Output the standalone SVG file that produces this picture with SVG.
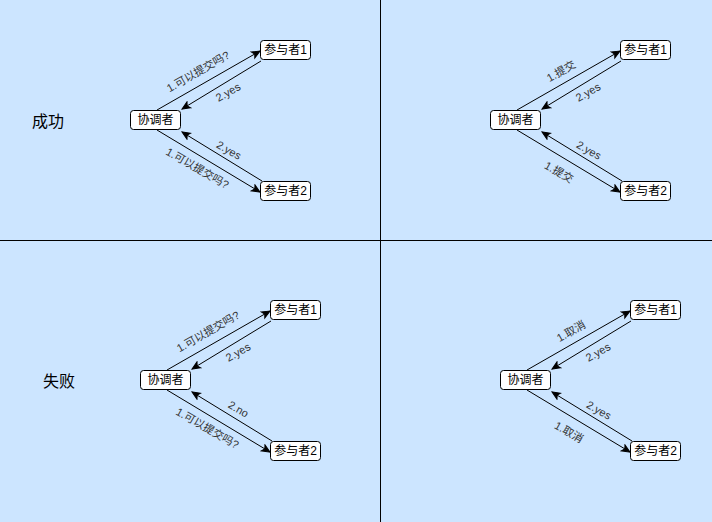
<svg xmlns="http://www.w3.org/2000/svg" width="712" height="522" viewBox="0 0 712 522">
<defs>
<style>
.bg{fill:#cce5ff}
.div{stroke:#000;stroke-width:1}
.node rect{fill:#fff;stroke:#000;stroke-width:1}
.node text{font-family:"Liberation Sans","Noto Sans CJK SC",sans-serif;font-size:12px;fill:#000;text-anchor:middle;dominant-baseline:central}
.edge{stroke:#000;stroke-width:1;fill:none;marker-end:url(#arr)}
.lbl{font-family:"Liberation Sans","Noto Sans CJK SC",sans-serif;font-size:11px;fill:#333;text-anchor:middle;dominant-baseline:central}
.title{font-family:"Liberation Sans","Noto Sans CJK SC",sans-serif;font-size:16px;fill:#000;text-anchor:middle;dominant-baseline:central}
</style>
<marker id="arr" markerUnits="userSpaceOnUse" markerWidth="10" markerHeight="10" viewBox="0 0 10 10" refX="9" refY="5" orient="auto">
<path d="M1,1.5 L9,5 L1,8.5 L3,5 Z" fill="#000" stroke="#000" stroke-width="1"/>
</marker>
</defs>
<rect class="bg" x="0" y="0" width="712" height="522"/>
<line class="div" x1="380.5" y1="0" x2="380.5" y2="522"/>
<line class="div" x1="0" y1="240.5" x2="712" y2="240.5"/>
<text class="title" x="48" y="121">成功</text>
<text class="title" x="59" y="381">失败</text>

<g id="connectors">
<g transform="translate(0,0)">
<path class="edge" d="M157,110 L260,51"/>
<path class="edge" d="M261,61 L182,109"/>
<path class="edge" d="M157,130 L260,192"/>
<path class="edge" d="M262,181 L182,132"/>
<text class="lbl" transform="translate(198,71.5) rotate(-30)">1.可以提交吗?</text>
<text class="lbl" transform="translate(228,92) rotate(-30)">2.yes</text>
<text class="lbl" transform="translate(229,150) rotate(30)">2.yes</text>
<text class="lbl" transform="translate(197.5,168) rotate(30)">1.可以提交吗?</text>
</g>
<g transform="translate(360,0)">
<path class="edge" d="M157,110 L260,51"/>
<path class="edge" d="M261,61 L182,109"/>
<path class="edge" d="M157,130 L260,192"/>
<path class="edge" d="M262,181 L182,132"/>
<text class="lbl" transform="translate(201,71) rotate(-30)">1.提交</text>
<text class="lbl" transform="translate(228,92) rotate(-30)">2.yes</text>
<text class="lbl" transform="translate(229,150) rotate(30)">2.yes</text>
<text class="lbl" transform="translate(199,172) rotate(30)">1.提交</text>
</g>
<g transform="translate(10,260)">
<path class="edge" d="M157,110 L260,51"/>
<path class="edge" d="M261,61 L182,109"/>
<path class="edge" d="M157,130 L260,192"/>
<path class="edge" d="M262,181 L182,132"/>
<text class="lbl" transform="translate(198,71.5) rotate(-30)">1.可以提交吗?</text>
<text class="lbl" transform="translate(228,92) rotate(-30)">2.yes</text>
<text class="lbl" transform="translate(228.5,149) rotate(30)">2.no</text>
<text class="lbl" transform="translate(197.5,168) rotate(30)">1.可以提交吗?</text>
</g>
<g transform="translate(370,260)">
<path class="edge" d="M157,110 L260,51"/>
<path class="edge" d="M261,61 L182,109"/>
<path class="edge" d="M157,130 L260,192"/>
<path class="edge" d="M262,181 L182,132"/>
<text class="lbl" transform="translate(201,71) rotate(-30)">1.取消</text>
<text class="lbl" transform="translate(228,92) rotate(-30)">2.yes</text>
<text class="lbl" transform="translate(229,150) rotate(30)">2.yes</text>
<text class="lbl" transform="translate(199,172) rotate(30)">1.取消</text>
</g>
</g>

<g id="q1-coord" class="node"><rect x="130.5" y="110.5" width="50" height="19" rx="3"/><text x="155.5" y="120">协调者</text></g>
<g id="q1-p1" class="node"><rect x="260.5" y="40.5" width="50" height="19" rx="3"/><text x="285.5" y="50">参与者1</text></g>
<g id="q1-p2" class="node"><rect x="260.5" y="181.5" width="50" height="19" rx="3"/><text x="285.5" y="191">参与者2</text></g>

<g id="q2-coord" class="node"><rect x="490.5" y="110.5" width="50" height="19" rx="3"/><text x="515.5" y="120">协调者</text></g>
<g id="q2-p1" class="node"><rect x="620.5" y="40.5" width="50" height="19" rx="3"/><text x="645.5" y="50">参与者1</text></g>
<g id="q2-p2" class="node"><rect x="620.5" y="181.5" width="50" height="19" rx="3"/><text x="645.5" y="191">参与者2</text></g>

<g id="q3-coord" class="node"><rect x="140.5" y="370.5" width="50" height="19" rx="3"/><text x="165.5" y="380">协调者</text></g>
<g id="q3-p1" class="node"><rect x="270.5" y="300.5" width="50" height="19" rx="3"/><text x="295.5" y="310">参与者1</text></g>
<g id="q3-p2" class="node"><rect x="270.5" y="441.5" width="50" height="19" rx="3"/><text x="295.5" y="451">参与者2</text></g>

<g id="q4-coord" class="node"><rect x="500.5" y="370.5" width="50" height="19" rx="3"/><text x="525.5" y="380">协调者</text></g>
<g id="q4-p1" class="node"><rect x="630.5" y="300.5" width="50" height="19" rx="3"/><text x="655.5" y="310">参与者1</text></g>
<g id="q4-p2" class="node"><rect x="630.5" y="441.5" width="50" height="19" rx="3"/><text x="655.5" y="451">参与者2</text></g>
</svg>
